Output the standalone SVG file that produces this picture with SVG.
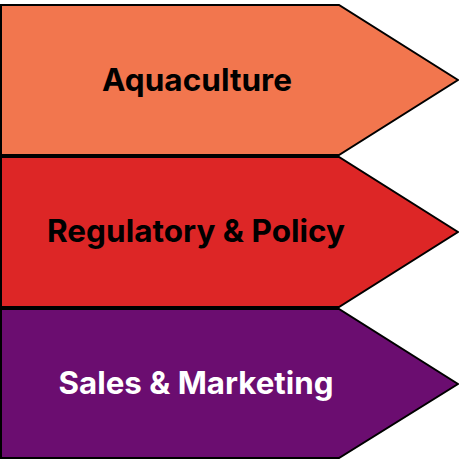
<svg xmlns="http://www.w3.org/2000/svg" width="459" height="460" viewBox="0 0 459 460">
<style>
.arrow{stroke:#000;stroke-width:2;stroke-linejoin:miter}
.lbl{font-family:Inter,"DejaVu Sans",sans-serif;font-weight:700;font-size:31px;text-anchor:middle}
</style>
<rect width="459" height="460" fill="#fff"/>
<g id="aquaculture">
<polygon class="arrow" fill="#F2764E" points="1,5 339,5 458,80 339,155 1,155"/>
<text class="lbl" x="197" y="91" fill="#000" textLength="190" lengthAdjust="spacingAndGlyphs">Aquaculture</text>
</g>
<g id="regulatory">
<polygon class="arrow" fill="#DD2626" points="1,157 339,157 458,232 339,307 1,307"/>
<text class="lbl" x="196" y="242" fill="#000" textLength="298" lengthAdjust="spacingAndGlyphs">Regulatory &amp; Policy</text>
</g>
<g id="sales">
<polygon class="arrow" fill="#6B0D70" points="1,309 339,309 458,384 339,458 1,458"/>
<text class="lbl" x="196" y="394" fill="#fff" textLength="275" lengthAdjust="spacingAndGlyphs">Sales &amp; Marketing</text>
</g>
<g id="connectors"></g>
</svg>
